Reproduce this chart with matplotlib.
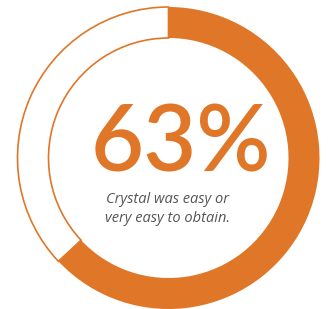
import matplotlib
matplotlib.use("Agg")
import matplotlib.pyplot as plt

# Data
shares = [63, 37]
big_label = "63%"
caption = "Crystal was easy or\nvery easy to obtain."

orange = "#E07628"
gray = "#555555"

W, H = 329, 309
fig = plt.figure(figsize=(W / 100, H / 100), dpi=100)
ax = fig.add_axes([0, 0, 1, 1])

cx, cy = 168.5, H - 158
R, ring = 151, 31
wedges, _ = ax.pie(shares, startangle=90, counterclock=False, radius=R, center=(cx, cy),
                   colors=[orange, "white"],
                   wedgeprops=dict(width=ring, linewidth=0))
wedges[1].set_edgecolor(orange)
wedges[1].set_linewidth(1.2)
wedges[1].set_zorder(0)

ax.text(cx + 12, cy + 12, big_label, ha="center", va="center", color=orange,
        fontsize=66, family="Lato", weight="semibold")
ax.text(cx - 1, cy - 51, caption, ha="center", va="center", color=gray,
        fontsize=10.5, style="italic", family="Open Sans", linespacing=1.3)

ax.set_xlim(0, W)
ax.set_ylim(0, H)
ax.set_aspect("equal")
ax.axis("off")
fig.savefig("out.png", dpi=100, facecolor="white")
